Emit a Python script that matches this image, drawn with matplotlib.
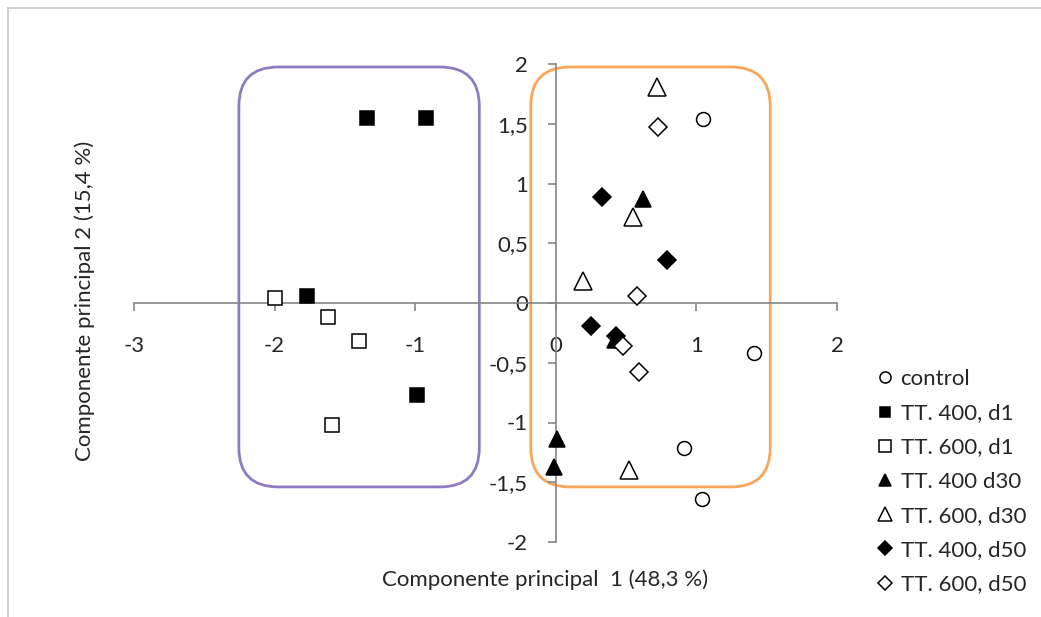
import matplotlib
matplotlib.use("Agg")
import matplotlib.pyplot as plt
from matplotlib.patches import FancyBboxPatch
from matplotlib.lines import Line2D

plt.rcParams['font.family'] = ['Lato', 'DejaVu Sans']

# ---- data ----
series_names = ["control", "TT. 400, d1", "TT. 600, d1", "TT. 400 d30",
                "TT. 600, d30", "TT. 400, d50", "TT. 600, d50"]
control_x = [1.05, 1.41, 0.91, 1.04]
control_y = [1.54, -0.42, -1.21, -1.64]
tt400_d1_x = [-1.34, -0.92, -1.77, -0.99]
tt400_d1_y = [1.55, 1.55, 0.06, -0.77]
tt600_d1_x = [-2.00, -1.62, -1.40, -1.59]
tt600_d1_y = [0.04, -0.12, -0.32, -1.02]
tt400_d30_x = [0.62, 0.01, -0.01, 0.42]
tt400_d30_y = [0.87, -1.14, -1.37, -0.31]
tt600_d30_x = [0.72, 0.55, 0.19, 0.52]
tt600_d30_y = [1.81, 0.72, 0.18, -1.40]
tt400_d50_x = [0.33, 0.79, 0.25, 0.43]
tt400_d50_y = [0.89, 0.36, -0.19, -0.28]
tt600_d50_x = [0.73, 0.58, 0.48, 0.59]
tt600_d50_y = [1.47, 0.06, -0.36, -0.58]

x_ticks = [-3, -2, -1, 0, 1, 2]
x_ticklabels = ["-3", "-2", "-1", "0", "1", "2"]
y_ticks = [-2, -1.5, -1, -0.5, 0, 0.5, 1, 1.5, 2]
y_ticklabels = ["-2", "-1,5", "-1", "-0,5", "0", "0,5", "1", "1,5", "2"]

xs = [control_x, tt400_d1_x, tt600_d1_x, tt400_d30_x, tt600_d30_x, tt400_d50_x, tt600_d50_x]
ys = [control_y, tt400_d1_y, tt600_d1_y, tt400_d30_y, tt600_d30_y, tt400_d50_y, tt600_d50_y]
markers = ["o", "s", "s", "^", "^", "D", "D"]
filled = [False, True, False, True, False, True, False]
sizes = [10, 9.5, 10, 11.5, 12.5, 9, 9]

FS = 16
TXT = "#262626"
W, H = 1041, 617
fig = plt.figure(figsize=(W / 100, H / 100), dpi=100)
ax = fig.add_axes([134 / W, 1 - 542 / H, (837 - 134) / W, (542 - 64) / H])
ax.set_xlim(-3, 2)
ax.set_ylim(-2, 2)

axis_col = "#868686"
for s in ["top", "right"]:
    ax.spines[s].set_visible(False)
ax.spines["left"].set_position(("data", 0))
ax.spines["bottom"].set_position(("data", 0))
ax.spines["left"].set_color(axis_col)
ax.spines["bottom"].set_color(axis_col)
ax.spines["left"].set_linewidth(1.2)
ax.spines["bottom"].set_linewidth(1.2)

ax.set_xticks(x_ticks)
ax.set_xticklabels(x_ticklabels)
ax.set_yticks(y_ticks)
ax.set_yticklabels(y_ticklabels)
ax.tick_params(axis="x", direction="out", length=6, color=axis_col, width=1.2,
               pad=18, labelsize=FS, labelcolor=TXT)
ax.tick_params(axis="y", direction="out", length=6, color=axis_col, width=1.2,
               pad=14, labelsize=FS, labelcolor=TXT)

# rounded group boxes
asp = 140.5 / 120.0
purple = FancyBboxPatch((-2.254, -1.539), 1.71, 3.514,
                        boxstyle="round,pad=0,rounding_size=0.28",
                        mutation_aspect=asp, fill=False,
                        edgecolor="#8e7cc3", linewidth=2, zorder=1)
orange = FancyBboxPatch((-0.178, -1.539), 1.703, 3.514,
                        boxstyle="round,pad=0,rounding_size=0.28",
                        mutation_aspect=asp, fill=False,
                        edgecolor="#f9a65a", linewidth=2, zorder=1)
ax.add_patch(purple)
ax.add_patch(orange)

handles = []
for x, y, m, f, sz, name in zip(xs, ys, markers, filled, sizes, series_names):
    h, = ax.plot(x, y, linestyle="none", marker=m, markersize=sz,
                 markerfacecolor="black" if f else "white",
                 markeredgecolor="black", markeredgewidth=1.1,
                 label=name, zorder=3, clip_on=False)
    handles.append(h)

fig.text(545 / W, 1 - 580 / H, "Componente principal  1 (48,3 %)",
         ha="center", va="center", fontsize=FS, color=TXT)
fig.text(85 / W, 1 - 301 / H, "Componente principal 2 (15,4 %)",
         ha="center", va="center", rotation=90, fontsize=FS, color=TXT)

leg = fig.legend(handles=handles, loc="upper left",
                 bbox_to_anchor=(865 / W, 1 - 358 / H), frameon=False,
                 fontsize=FS, handlelength=0.8, handletextpad=0.3,
                 labelspacing=0.64, borderpad=0, markerscale=0.8)
for t in leg.get_texts():
    t.set_color(TXT)

# chart border lines (top and left)
fig.add_artist(Line2D([8 / W, 1], [1 - 7.5 / H, 1 - 7.5 / H], color="#c8c8c8", lw=1.2))
fig.add_artist(Line2D([8 / W, 8 / W], [0, 1 - 7.5 / H], color="#c8c8c8", lw=1.2))

fig.savefig("out.png", dpi=100, facecolor="white")
